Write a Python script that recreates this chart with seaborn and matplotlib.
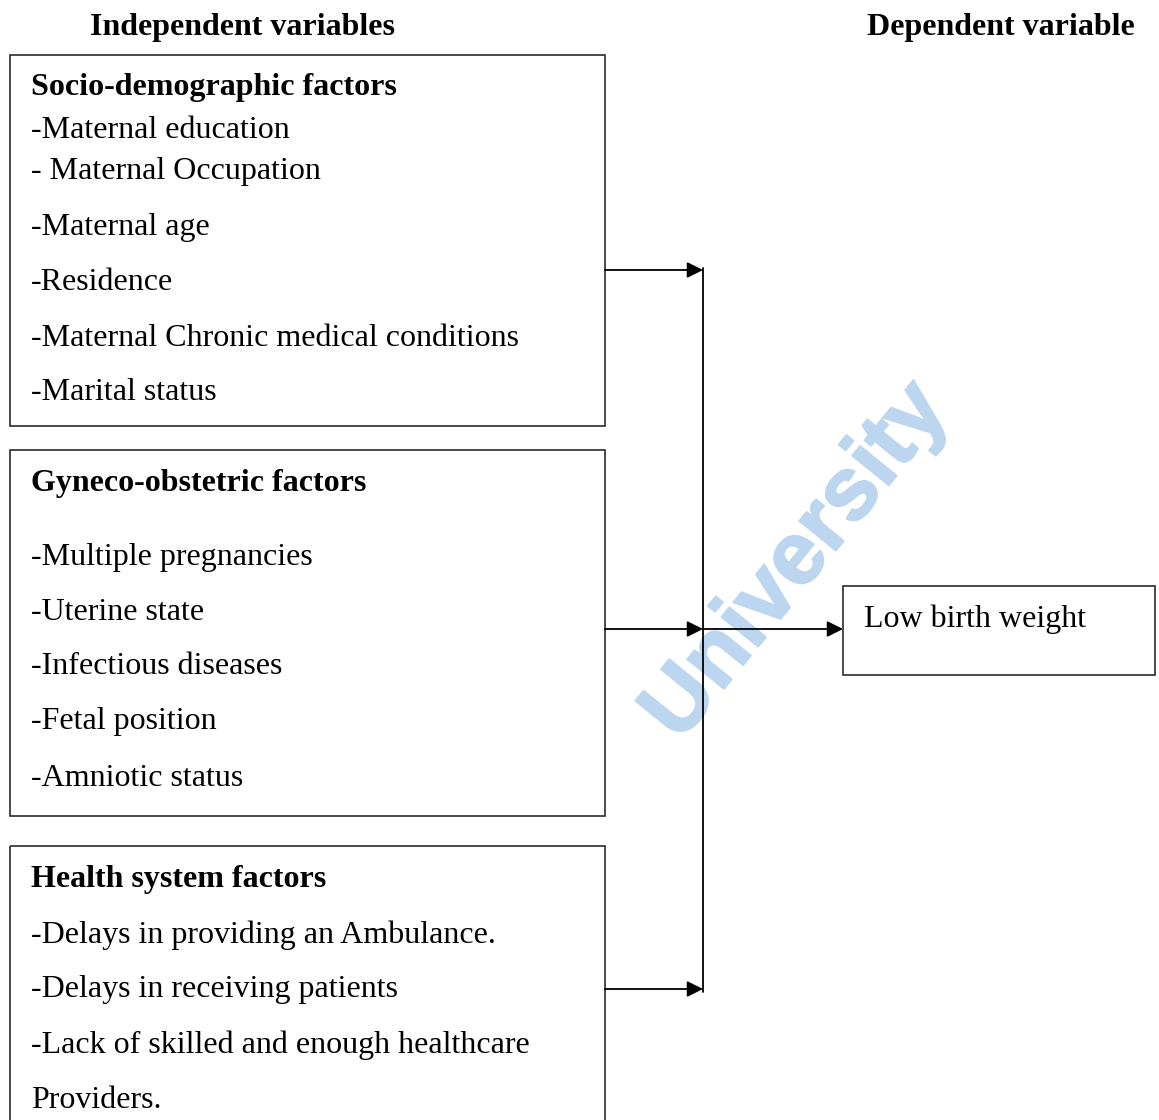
import matplotlib
matplotlib.use("Agg")
import matplotlib.pyplot as plt
import matplotlib.patheffects as pe
from matplotlib.patches import Rectangle
import seaborn as sns

# header labels
col_titles = ["Independent variables", "Dependent variable"]

# factor groups (bold heading + items)
group_titles = ["Socio-demographic factors", "Gyneco-obstetric factors", "Health system factors"]
socio_items = ["-Maternal education", "- Maternal Occupation", "-Maternal age", "-Residence",
               "-Maternal Chronic medical conditions", "-Marital status"]
gyneco_items = ["-Multiple pregnancies", "-Uterine state", "-Infectious diseases",
                "-Fetal position", "-Amniotic status"]
health_items = ["-Delays in providing an Ambulance.", "-Delays in receiving patients",
                "-Lack of skilled and enough healthcare", "Providers."]
outcome = "Low birth weight"
watermark = "University"

# layout in pixel coords (y down)
W, H = 1159, 1120
box_x0, box_x1 = 10, 605
box_y = [(55, 426), (450, 816), (846, 1122)]
title_y = [88, 483, 879]
item_y = [[130, 172, 227, 283, 338, 393],
          [557, 612, 667, 722, 778],
          [935, 990, 1045, 1100]]
arrow_y = [270, 629, 989]
join_x = 703
out_box = (843, 586, 1155, 675)

sns.set_style("white")
plt.rcParams["font.family"] = ["Liberation Serif", "DejaVu Serif"]
plt.rcParams["text.color"] = "black"

fig = plt.figure(figsize=(W / 100, H / 100), dpi=100)
ax = fig.add_axes([0, 0, 1, 1])
ax.set_xlim(0, W)
ax.set_ylim(H, 0)
ax.axis("off")

fs = 23
edge = "#2b2b2b"
wm_color = "#bcd6ef"

# faint watermark
ax.text(797, 562, watermark, rotation=51, ha="center", va="center", fontsize=64,
        fontweight="bold", family="Liberation Sans", color=wm_color, zorder=0,
        path_effects=[pe.withStroke(linewidth=1.5, foreground=wm_color)])

ax.text(243, 28, col_titles[0], ha="center", va="center", fontsize=fs, fontweight="bold")
ax.text(1001, 28, col_titles[1], ha="center", va="center", fontsize=fs, fontweight="bold")

items_all = [socio_items, gyneco_items, health_items]
for (y0, y1), ty, title, items, ys in zip(box_y, title_y, group_titles, items_all, item_y):
    ax.add_patch(Rectangle((box_x0, y0), box_x1 - box_x0, y1 - y0, fill=False,
                           edgecolor=edge, lw=1.2, zorder=2))
    ax.text(31, ty, title, ha="left", va="center", fontsize=fs, fontweight="bold")
    for txt, yy in zip(items, ys):
        ax.text(31, yy, txt, ha="left", va="center", fontsize=fs)

ox0, oy0, ox1, oy1 = out_box
ax.add_patch(Rectangle((ox0, oy0), ox1 - ox0, oy1 - oy0, fill=False, edgecolor=edge, lw=1.2))
ax.text(864, 619, outcome, ha="left", va="center", fontsize=fs)

# connectors
ax.plot([join_x, join_x], [arrow_y[0] - 2, arrow_y[2] + 3], color="black", lw=1.3)
aprops = dict(arrowstyle="-|>", color="black", lw=1.3, mutation_scale=24, shrinkA=0, shrinkB=0)
for yy in arrow_y:
    ax.annotate("", xy=(join_x, yy), xytext=(box_x1, yy), arrowprops=aprops)
ax.annotate("", xy=(ox0, arrow_y[1]), xytext=(join_x, arrow_y[1]), arrowprops=aprops)

fig.savefig("out.png", dpi=100)
plt.close(fig)
